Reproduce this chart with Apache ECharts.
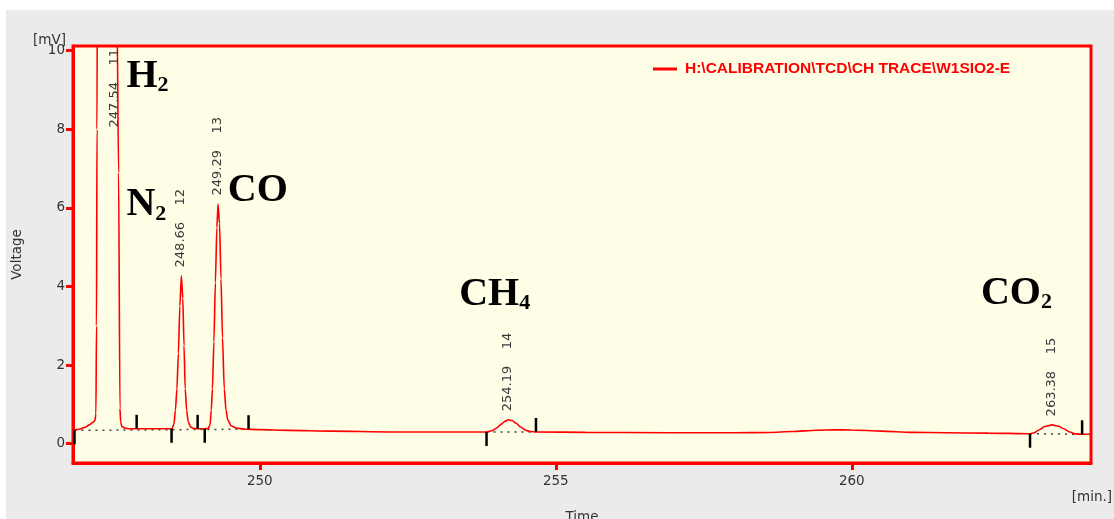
<!DOCTYPE html>
<html><head><meta charset="utf-8">
<script src="https://cdn.jsdelivr.net/npm/echarts@6/dist/echarts.min.js"></script>
<style>
html,body{margin:0;padding:0;background:#ffffff;overflow:hidden;}
#bg{position:absolute;left:6px;top:10px;width:1108px;height:509px;background:#ebebeb;}
#chart{position:absolute;left:0;top:0;width:1114px;height:519px;}
</style></head><body>
<div id="bg"></div><div id="chart"></div>
<script>
// ---------- DATA ----------
const traceName = 'H:\\CALIBRATION\\TCD\\CH TRACE\\W1SIO2-E';
const traceTime = [246.85,246.95,247.05,247.12,247.18,247.215,247.232,247.242,247.25,247.26,247.35,247.54,247.588,247.615,247.638,247.65,247.67,247.72,247.80,248.00,248.20,248.40,248.52,248.55,248.575,248.60,248.625,248.65,248.675,248.70,248.72,248.74,248.765,248.79,248.83,248.88,248.95,249.05,249.13,249.16,249.18,249.20,249.225,249.25,249.275,249.295,249.32,249.345,249.37,249.40,249.43,249.46,249.52,249.60,249.75,250.00,250.50,251.20,252.20,253.00,253.83,253.92,254.00,254.08,254.14,254.20,254.26,254.33,254.41,254.50,254.58,254.67,255.50,256.90,258.00,258.60,259.00,259.40,259.70,260.00,260.50,261.00,261.60,262.30,263.01,263.08,263.16,263.26,263.38,263.48,263.58,263.68,263.78,263.89,264.04];
const traceMV = [0.34,0.37,0.42,0.48,0.54,0.59,0.75,3.0,8.0,14.0,30.0,40.0,11.0,6.9,0.9,0.55,0.44,0.40,0.38,0.38,0.38,0.38,0.385,0.50,0.85,1.40,2.30,3.50,4.27,3.70,2.50,1.40,0.85,0.56,0.43,0.39,0.38,0.38,0.39,0.48,0.85,1.40,2.60,4.10,5.50,6.10,5.60,4.20,2.70,1.40,0.85,0.60,0.45,0.40,0.37,0.36,0.34,0.32,0.30,0.30,0.30,0.33,0.40,0.50,0.57,0.61,0.59,0.52,0.42,0.34,0.31,0.30,0.29,0.28,0.28,0.285,0.31,0.345,0.355,0.35,0.32,0.29,0.28,0.27,0.255,0.28,0.35,0.44,0.48,0.45,0.38,0.30,0.25,0.24,0.24];

// peaks: retention time, peak number, apex (null = off scale)
const peakRT = [247.54, 248.66, 249.29, 254.19, 263.38];
const peakNo = ['11', '12', '13', '14', '15'];
const peakApexMV = [null, 4.27, 6.10, 0.61, 0.48];

// integration events
const intStartTime = [246.87, 248.51, 249.07, 253.83, 263.01];
const intStartMV   = [0.34, 0.38, 0.38, 0.30, 0.255];
const intEndTime   = [247.92, 248.95, 249.81, 254.665, 263.89];
const intEndMV     = [0.38, 0.38, 0.37, 0.30, 0.24];
const baselineGroups = [[0, 2], [3, 3], [4, 4]];

// compound names
const gasMain = ['H', 'N', 'CO', 'CH', 'CO'];
const gasSub  = ['2', '2', '', '4', '2'];

// axis ticks
const yTicks = [0, 2, 4, 6, 8, 10];
const xTicks = [250, 255, 260];

// ---------- LAYOUT (annotation anchors, in axis units) ----------
const gasAnchor = [[247.747, 9.04], [247.747, 5.77], [249.459, 6.13], [253.368, 3.50], [262.18, 3.51]];

const RED = '#ff0000';
const AXFONT = 'DejaVu Sans';

const chart = echarts.init(document.getElementById('chart'), null, {renderer: 'canvas'});

const trace = traceTime.map((t, i) => [t, traceMV[i]]);
const ticks = [];
intStartTime.forEach((t, i) => ticks.push([t, intStartMV[i], 1]));
intEndTime.forEach((t, i) => ticks.push([t, intEndMV[i], -1]));

const baselineSeries = baselineGroups.map(g => ({
  type: 'line', silent: true, symbol: 'none', z: 3,
  data: [[intStartTime[g[0]], intStartMV[g[0]]], [intEndTime[g[1]], intEndMV[g[1]]]],
  lineStyle: {color: '#444', width: 1.5, type: [2, 5]}
}));

const option = {
  animation: false,
  backgroundColor: 'transparent',
  grid: {left: 73, right: 23, top: 46, bottom: 56, show: true, backgroundColor: '#fefee7', borderColor: RED, borderWidth: 3, containLabel: false, outerBoundsMode: 'none'},
  legend: {
    data: [traceName], left: 648, top: 56, icon: 'rect', itemWidth: 24, itemHeight: 3,
    textStyle: {color: RED, fontWeight: 'bold', fontSize: 15.5, fontFamily: 'Liberation Sans', padding: [0, 0, 0, 3]},
    selectedMode: false
  },
  xAxis: {
    type: 'value', min: 246.845, max: 264.04,
    axisLine: {show: true, onZero: false, lineStyle: {color: RED, width: 3}},
    axisTick: {show: true, length: 7, lineStyle: {color: RED, width: 3}, customValues: xTicks},
    axisLabel: {customValues: xTicks, color: '#333', fontSize: 13.5, fontFamily: AXFONT, margin: 11},
    splitLine: {show: false},
    name: 'Time', nameLocation: 'middle', nameGap: 47,
    nameTextStyle: {color: '#333', fontSize: 13.5, fontFamily: AXFONT}
  },
  yAxis: {
    type: 'value', min: -0.49, max: 10.12,
    axisLine: {show: true, onZero: false, lineStyle: {color: RED, width: 3}},
    axisTick: {show: true, length: 7, lineStyle: {color: RED, width: 3}, customValues: yTicks},
    axisLabel: {customValues: yTicks, color: '#333', fontSize: 13.5, fontFamily: AXFONT, margin: 8},
    splitLine: {show: false},
    name: 'Voltage', nameLocation: 'middle', nameGap: 49,
    nameTextStyle: {color: '#333', fontSize: 13.5, fontFamily: AXFONT}
  },
  series: [
    {
      name: traceName, type: 'line', data: trace, showSymbol: false, symbol: 'none',
      smooth: 0.25, smoothMonotone: 'x', clip: true, z: 4,
      lineStyle: {color: RED, width: 1.6}, itemStyle: {color: RED}
    },
    ...baselineSeries,
    {
      type: 'custom', silent: true, z: 5, data: ticks, encode: {x: 0, y: 1},
      renderItem: function (params, api) {
        const p = api.coord([api.value(0), api.value(1)]);
        const d = api.value(2);
        return {type: 'line', shape: {x1: p[0], y1: p[1], x2: p[0], y2: p[1] + d * 14},
                style: {stroke: '#000', lineWidth: 2.5}};
      }
    }
  ]
};
chart.setOption(option);

// ---------- annotations ----------
function measure(text, font) {
  const c = document.createElement('canvas').getContext('2d');
  c.font = font; return c.measureText(text).width;
}
const gridTopPx = 46;
const graphics = [];
peakRT.forEach((rt, i) => {
  const text = rt.toFixed(2) + '    ' + peakNo[i];
  const w = measure(text, '13px DejaVu Sans');
  let px, py;
  if (peakApexMV[i] == null) {
    px = chart.convertToPixel({gridIndex: 0}, [rt, 0])[0];
    py = gridTopPx + 3 + w;
  } else {
    const p = chart.convertToPixel({gridIndex: 0}, [rt, peakApexMV[i]]);
    px = p[0]; py = p[1] - 8.5;
  }
  graphics.push({
    type: 'text', x: px, y: py, rotation: Math.PI / 2, z: 10, silent: true,
    style: {text: text, fill: '#3a3a3a', font: '13px DejaVu Sans', align: 'left', verticalAlign: 'middle'}
  });
});
gasMain.forEach((m, i) => {
  const p = chart.convertToPixel({gridIndex: 0}, gasAnchor[i]);
  const txt = gasSub[i] ? '{m|' + m + '}{s|' + gasSub[i] + '}' : '{m|' + m + '}';
  graphics.push({
    type: 'text', x: p[0], y: p[1] - 32, z: 10, silent: true,
    style: {
      text: txt, align: 'left', verticalAlign: 'top',
      rich: {
        m: {fontFamily: 'Liberation Serif', fontWeight: 'bold', fontSize: 40, lineHeight: 40, fill: '#000'},
        s: {fontFamily: 'Liberation Serif', fontWeight: 'bold', fontSize: 22, lineHeight: 20, verticalAlign: 'bottom', fill: '#000'}
      }
    }
  });
});
graphics.push({type: 'text', x: 33, y: 40, z: 10, silent: true,
  style: {text: '[mV]', fill: '#333', font: '13.5px DejaVu Sans', align: 'left', verticalAlign: 'middle'}});
graphics.push({type: 'text', x: 1112, y: 497, z: 10, silent: true,
  style: {text: '[min.]', fill: '#333', font: '13.5px DejaVu Sans', align: 'right', verticalAlign: 'middle'}});
chart.setOption({graphic: graphics});
</script>
</body></html>
